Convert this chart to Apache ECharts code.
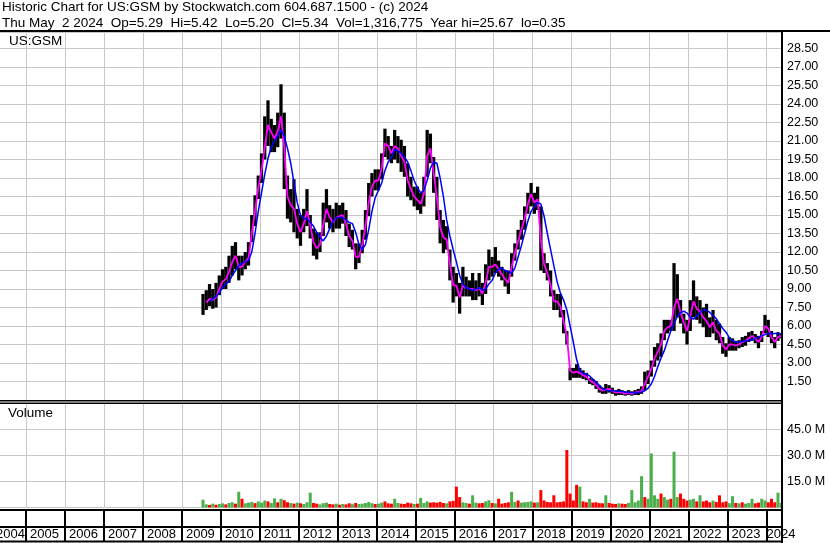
<!DOCTYPE html>
<html><head><meta charset="utf-8">
<script src="https://cdn.jsdelivr.net/npm/echarts@6/dist/echarts.min.js"></script>
<style>html,body{margin:0;padding:0;background:#fff}#c{width:830px;height:543px}</style>
</head><body><div id="c"></div>
<script>
// monthly data, first month = 2009-07
const startYear = 2009, startMonth = 7;
const lows = [
6.9,7.3,7.6,7.4,7.5,8.5,9.0,9.0,9.5,10.1,
10.6,9.7,10.1,10.6,10.9,12.8,14.1,16.3,17.6,19.5,
20.6,20.1,20.1,20.5,21.2,17.1,14.7,14.4,13.6,13.1,
12.5,13.6,14.1,13.1,11.7,11.4,12.0,13.3,14.4,13.9,
13.6,13.9,13.9,14.3,13.3,12.4,12.2,10.6,11.1,11.9,
13.0,14.9,16.5,17.0,17.0,17.9,19.7,19.5,19.2,19.5,
19.2,18.5,18.1,16.5,16.2,15.7,15.4,15.1,15.7,18.1,
19.2,16.8,14.6,12.7,11.9,12.2,9.7,7.9,8.4,7.0,
8.4,8.4,8.4,8.1,8.1,8.4,7.7,8.6,9.7,10.0,
10.3,10.0,9.7,9.2,8.6,10.0,11.3,12.2,13.0,13.8,
15.1,15.7,15.1,15.4,10.5,10.3,9.7,8.4,7.3,7.3,
6.7,5.4,4.5,1.6,1.8,1.8,1.8,1.7,1.6,1.3,
1.2,0.9,0.6,0.5,0.5,0.6,0.5,0.35,0.4,0.4,
0.35,0.4,0.35,0.4,0.4,0.5,0.8,1.3,1.9,2.7,
3.2,3.5,4.85,5.4,5.6,5.6,6.7,6.2,5.4,4.5,
5.6,6.7,6.5,6.2,5.9,5.1,5.1,5.4,4.85,4.6,
3.75,3.5,4.0,4.0,4.0,4.2,4.3,4.4,4.7,4.8,
4.6,4.2,4.7,5.4,5.1,4.6,4.2,4.8,5.0];
const highs = [
8.6,8.9,9.4,9.0,9.5,10.1,10.6,10.8,11.7,12.5,
12.8,11.7,11.7,12.0,12.8,15.0,16.6,18.2,20.0,23.0,
24.3,22.8,22.3,23.3,25.6,23.3,18.2,17.1,17.9,15.5,
15.0,15.5,17.1,15.0,13.9,13.6,13.6,16.0,17.1,15.8,
15.5,16.0,15.8,16.0,15.4,14.3,13.8,12.7,12.7,13.8,
15.4,17.6,18.4,18.7,18.7,20.0,22.0,21.4,20.6,21.9,
21.4,21.1,20.6,19.2,18.1,17.3,17.3,16.8,18.1,21.9,
21.6,19.7,18.1,15.4,14.6,14.1,12.2,10.8,10.3,9.5,
10.8,10.0,9.7,10.3,9.7,10.3,9.5,11.0,12.2,11.6,
12.4,11.3,10.8,10.5,10.5,11.9,12.7,13.8,14.6,15.7,
16.8,17.6,16.8,17.3,15.7,11.9,11.1,10.5,8.9,8.6,
8.6,7.3,5.6,2.6,2.6,2.9,2.6,2.4,2.2,1.8,
1.7,1.55,1.2,1.0,1.3,1.2,1.0,0.8,0.9,0.8,
0.7,0.8,0.7,0.8,0.9,1.1,2.3,2.4,3.2,4.3,
4.6,5.4,6.5,6.5,6.5,11.1,10.2,8.1,7.0,6.5,
8.1,9.7,8.4,8.1,7.5,7.8,6.7,7.3,6.5,6.2,
5.1,4.6,5.1,5.0,4.8,4.85,5.1,5.2,5.5,5.6,
5.35,5.2,5.6,6.9,6.5,5.6,5.1,5.5,5.42];
const maShort = [
null,7.9,8.2,8.1,8.3,9.0,9.6,9.8,10.4,11.2,
11.7,10.8,10.8,11.2,11.5,13.5,15.3,17.2,18.6,20.5,
22.3,21.7,21.2,21.8,23.0,20.5,16.5,15.8,15.5,14.3,
13.6,14.3,15.3,14.2,12.8,12.3,12.6,14.2,15.5,14.8,
14.4,14.8,14.9,15.0,14.3,13.3,12.9,11.6,11.6,12.6,
14.0,16.0,17.3,17.8,17.8,18.8,20.8,20.6,20.0,20.6,
20.4,19.8,19.3,17.8,17.1,16.5,16.2,15.9,16.7,19.8,
20.4,18.4,16.4,14.0,13.2,13.0,11.0,9.3,9.3,8.3,
9.3,9.1,9.0,9.0,8.9,9.1,8.6,9.5,10.8,10.8,
11.0,10.6,10.2,9.8,9.5,10.8,11.9,12.9,13.8,14.7,
15.9,16.7,16.0,16.3,13.0,11.0,10.3,9.3,8.0,8.0,
7.6,6.4,5.2,2.4,2.2,2.3,2.2,2.0,1.9,1.6,
1.45,1.2,0.9,0.75,0.85,0.9,0.75,0.6,0.65,0.6,
0.5,0.6,0.5,0.6,0.65,0.75,1.3,1.9,2.5,3.4,
3.9,4.5,5.6,5.9,6.0,7.5,8.2,7.1,6.3,5.6,
6.8,8.0,7.4,7.2,6.7,6.4,5.9,6.3,5.6,5.4,
4.4,4.1,4.5,4.5,4.4,4.5,4.7,4.8,5.0,5.2,
5.0,4.7,5.1,6.0,5.8,5.1,4.7,5.1,5.2];
const maLong = [
null,null,8.0,8.2,8.4,8.7,9.1,9.4,9.6,10.1,
10.5,10.9,11.1,11.2,11.3,12.0,13.5,15.3,16.8,18.3,
19.6,20.5,21.0,21.4,21.9,21.4,20.4,19.2,17.6,16.0,
15.0,14.7,14.7,14.4,14.1,13.6,13.2,12.9,13.3,13.9,
14.5,14.8,14.8,14.8,14.6,14.4,14.3,13.6,12.6,12.2,
12.6,13.8,15.3,16.4,17.0,17.6,18.6,19.3,19.7,20.3,
20.2,20.0,19.7,19.3,18.6,17.8,17.2,16.8,17.0,17.8,
18.8,19.3,19.2,18.0,16.5,14.6,13.3,12.2,11.2,10.1,
9.4,9.1,9.0,8.9,9.0,9.1,8.9,9.0,9.4,9.7,
10.3,10.6,10.7,10.5,10.4,10.3,10.7,11.6,12.5,13.5,
14.5,15.3,15.7,16.0,15.9,14.9,13.5,12.2,10.9,9.6,
8.7,8.1,7.3,6.0,4.7,3.3,2.4,2.15,2.1,1.95,
1.7,1.45,1.2,0.95,0.8,0.75,0.75,0.72,0.7,0.68,
0.65,0.62,0.6,0.57,0.6,0.65,0.75,0.95,1.3,1.9,
2.7,3.4,4.0,4.8,5.6,6.2,6.75,7.1,7.2,7.05,
6.7,6.55,6.8,7.1,7.3,7.3,7.1,6.85,6.6,6.2,
5.8,5.5,5.05,4.8,4.7,4.7,4.75,4.8,4.8,4.9,
5.0,5.1,5.2,5.3,5.4,5.4,5.4,5.4,5.35];
// volume in millions, and up(g)/down(r) colour per month
const volume = [
4.5,1.8,1.5,2.2,1.6,2.0,2.4,1.8,2.6,3.0,
2.2,9.0,5.0,2.4,2.8,3.2,2.5,3.5,2.8,4.0,
3.5,2.6,5.2,3.0,5.0,4.2,3.0,2.6,2.2,2.8,
2.4,2.0,3.0,8.5,2.6,2.2,1.8,2.5,2.8,2.0,
1.8,2.2,1.6,2.0,1.8,2.4,1.9,2.6,2.0,2.2,
2.6,3.2,2.5,2.0,2.2,2.8,3.5,2.4,2.2,5.0,
2.6,2.2,2.0,2.8,2.4,2.0,2.2,5.5,2.6,3.5,
2.8,3.0,2.8,3.2,2.6,2.4,3.5,3.8,12.0,6.0,
3.0,2.6,2.2,7.0,2.8,2.4,2.6,3.5,4.2,2.6,
2.4,5.0,2.2,2.6,3.0,9.0,3.2,4.0,2.8,3.0,
3.2,3.5,2.8,3.0,10.0,4.0,3.2,3.0,7.0,3.0,
3.2,3.5,33.0,8.0,4.0,13.0,12.0,3.5,3.0,5.0,
2.8,3.0,2.5,2.4,7.0,2.6,2.2,2.0,2.4,2.2,
2.0,2.6,10.0,3.0,4.0,18.0,6.0,5.0,31.0,7.0,
5.0,8.0,6.0,4.5,5.0,32.0,6.0,8.0,5.0,4.0,
4.5,5.0,3.5,7.0,3.5,4.0,3.0,4.0,3.2,7.0,
3.0,3.5,2.5,6.5,2.6,2.4,3.0,2.2,2.6,5.0,
2.4,2.8,5.0,4.0,3.0,5.0,3.0,8.5,2.6];
const volDir =
'ggrgrggrgg' + 'rgrgggrggg' + 'rggrgrrgrg' + 'rgggrrgggr' +
'rgrgrrgrgg' + 'gggrggrrrg' + 'grrrrgrggg' + 'rrrrrgrrrr' +
'ggrggrrggr' + 'grrrrggrgg' + 'ggrgrrrrrr' + 'rrrrrrgrrg' +
'rrrrgrrrgr' + 'rgggggrggg' + 'grggrggrrr' + 'ggrgrrrgrr' +
'rrggrgrggg' + 'rrggrrrgg';
const yearTicks = [2005,2006,2007,2008,2009,2010,2011,2012,2013,2014,2015,2016,2017,2018,2019,2020,2021,2022,2023,2024];
const yearLabels = ['2004','2005','2006','2007','2008','2009','2010','2011','2012','2013','2014','2015','2016','2017','2018','2019','2020','2021','2022','2023','2024'];
const titleLine1 = 'Historic Chart for US:GSM by Stockwatch.com 604.687.1500 - (c) 2024';
const titleLine2 = 'Thu May  2 2024  Op=5.29  Hi=5.42  Lo=5.20  Cl=5.34  Vol=1,316,775  Year hi=25.67  lo=0.35';

function monthX(i){
  const t = (startMonth - 1) + i;
  return startYear + Math.floor(t / 12) + ((t % 12) + 0.5) / 12;
}
const priceData = lows.map((l, i) => [monthX(i), l, highs[i]]);
const shortData = maShort.map((v, i) => [monthX(i), v]);
const longData = maLong.map((v, i) => [monthX(i), v]);
const volData = volume.map((v, i) => ({value: [monthX(i), v], itemStyle: {color: volDir[i] === 'r' ? '#ff0000' : '#4caf4c'}}));

const FONT = '"Liberation Sans", Arial, sans-serif';
const GRID_L = 0, GRID_R = 48;
const XMIN = 2004.333, XMAX = 2024.395;
const grey = '#c8c8c8';
function xAx(gi, black, labels){
  return {
    type: 'value', gridIndex: gi, min: XMIN, max: XMAX,
    axisLine: {show: false},
    axisTick: {show: false, customValues: yearTicks},
    splitLine: {show: true, lineStyle: {color: black ? '#000' : grey, width: black ? 2 : 1}},
    axisLabel: labels ? {
      show: true, margin: 1, color: '#000', fontFamily: FONT, fontSize: 13,
      align: 'left', verticalAlign: 'top',
      customValues: [2004.333].concat(yearTicks),
      formatter: v => {
        if (v < 2005) return '{f|2004}';
        const s = yearLabels[Math.round(v) - 2004];
        if (!s) return '';
        if (s === '2024') return '{e|' + s + '}';
        return '{n|' + s + '}';
      },
      rich: {
        f: {width: 25, align: 'right', fontFamily: FONT, fontSize: 13, color: '#000'},
        e: {padding: [0,0,0,0], fontFamily: FONT, fontSize: 13, color: '#000'},
        n: {padding: [0,0,0,4], fontFamily: FONT, fontSize: 13, color: '#000'}
      }
    } : {show: false}
  };
}
function gridAt(top, height){
  return {left: GRID_L, right: GRID_R, top: top, height: height, containLabel: false, outerBoundsMode: 'none'};
}

const chart = echarts.init(document.getElementById('c'), null, {renderer: 'canvas'});
chart.setOption({
  animation: false,
  backgroundColor: '#fff',
  grid: [gridAt(32, 368), gridAt(403, 104.5), gridAt(511, 16), gridAt(527, 14.5)],
  xAxis: [xAx(0,false,false), xAx(1,false,false), xAx(2,true,true), xAx(3,true,false)],
  yAxis: [
    {type: 'value', gridIndex: 0, position: 'right', min: 0, max: 29.84, interval: 1.5,
     axisLine: {show: false}, axisTick: {show: false},
     splitLine: {lineStyle: {color: grey, width: 1}},
     axisLabel: {margin: 5, color: '#000', fontFamily: FONT, fontSize: 12.5,
       formatter: v => (v < 1 || v > 29) ? '' : v.toFixed(2)}},
    {type: 'value', gridIndex: 1, position: 'right', min: 0, max: 60, interval: 15,
     axisLine: {show: false}, axisTick: {show: false},
     splitLine: {lineStyle: {color: grey, width: 1}},
     axisLabel: {margin: 5, color: '#000', fontFamily: FONT, fontSize: 12.5,
       formatter: v => (v <= 0 || v >= 59) ? '' : v.toFixed(1) + ' M'}},
    {type: 'value', gridIndex: 2, show: false, min: 0, max: 1},
    {type: 'value', gridIndex: 3, show: false, min: 0, max: 1}
  ],
  series: [
    {type: 'custom', xAxisIndex: 0, yAxisIndex: 0, data: priceData, z: 2,
     encode: {x: 0, y: [1, 2]},
     renderItem: (params, api) => {
       const lo = api.coord([api.value(0), api.value(1)]);
       const hi = api.coord([api.value(0), api.value(2)]);
       const w = api.size([1/12, 0])[0];
       return {type: 'rect', shape: {x: lo[0] - w/2, y: hi[1], width: w, height: Math.max(1, lo[1] - hi[1])},
               style: {fill: '#000'}};
     }},
    {type: 'line', xAxisIndex: 0, yAxisIndex: 0, data: shortData, z: 3, showSymbol: false,
     lineStyle: {color: '#ff00ff', width: 1.8}, connectNulls: false},
    {type: 'line', xAxisIndex: 0, yAxisIndex: 0, data: longData, z: 4, showSymbol: false,
     lineStyle: {color: '#0000ff', width: 1.5}},
    {type: 'bar', xAxisIndex: 1, yAxisIndex: 1, data: volData, barWidth: 3, z: 2}
  ],
  graphic: [
    {type: 'text', x: 2, y: 7.7, z: 100, style: {text: titleLine1, font: '13.5px ' + FONT, fill: '#000', verticalAlign: 'middle'}},
    {type: 'text', x: 2, y: 23.3, z: 100, style: {text: titleLine2, font: '13.5px ' + FONT, fill: '#000', verticalAlign: 'middle'}},
    {type: 'text', x: 9, y: 41.5, z: 100, style: {text: 'US:GSM', font: '13.5px ' + FONT, fill: '#000', verticalAlign: 'middle'}},
    {type: 'text', x: 8, y: 413, z: 100, style: {text: 'Volume', font: '13.5px ' + FONT, fill: '#000', verticalAlign: 'middle'}},
    {type: 'line', z: 100, shape: {x1: 0, y1: 31, x2: 830, y2: 31}, style: {stroke: '#000', lineWidth: 2}},
    {type: 'line', z: 100, shape: {x1: 782, y1: 30, x2: 782, y2: 543}, style: {stroke: '#000', lineWidth: 2}},
    {type: 'line', z: 100, shape: {x1: 0, y1: 400.7, x2: 782, y2: 400.7}, style: {stroke: '#000', lineWidth: 1.5}},
    {type: 'line', z: 100, shape: {x1: 0, y1: 403.3, x2: 782, y2: 403.3}, style: {stroke: '#000', lineWidth: 1.5}},
    {type: 'line', z: 100, shape: {x1: 0, y1: 510, x2: 782, y2: 510}, style: {stroke: '#000', lineWidth: 2}},
    {type: 'line', z: 100, shape: {x1: 0, y1: 527, x2: 782, y2: 527}, style: {stroke: '#000', lineWidth: 2}},
    {type: 'line', z: 100, shape: {x1: 0, y1: 541.5, x2: 782, y2: 541.5}, style: {stroke: '#000', lineWidth: 2}}
  ]
});
</script></body></html>
